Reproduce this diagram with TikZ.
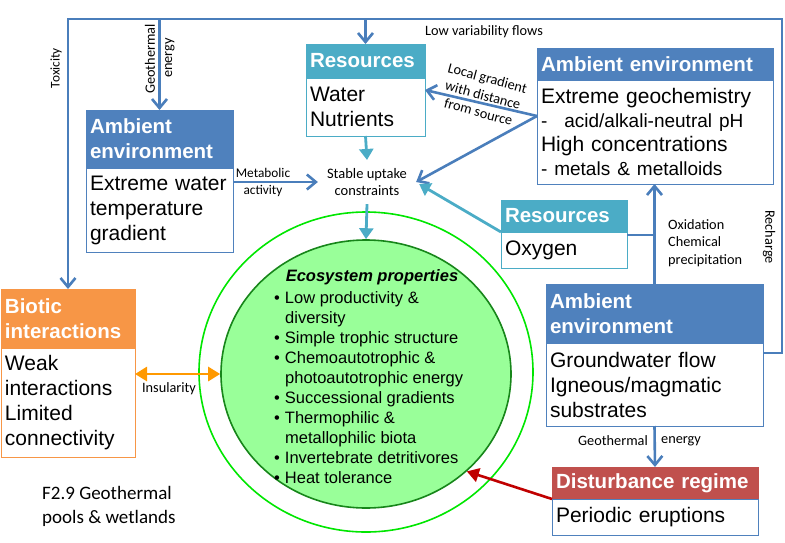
\documentclass[tikz,border=0pt]{standalone}
\usepackage{fontspec}
\setmainfont{Liberation Sans}
\newfontfamily\calib{Carlito}
\usetikzlibrary{arrows.meta,shapes.geometric}
\definecolor{hblue}{HTML}{4F81BD}
\definecolor{hteal}{HTML}{4BACC6}
\definecolor{horange}{HTML}{F79646}
\definecolor{hred}{HTML}{C0504D}
\definecolor{lblue}{HTML}{4A7EBB}
\definecolor{lorange}{HTML}{FF9900}
\definecolor{lred}{HTML}{C00000}
\definecolor{ring}{HTML}{00E600}
\definecolor{ecofill}{HTML}{99FF99}
\definecolor{ecoline}{HTML}{17861A}
\begin{document}
\begin{tikzpicture}[x=1pt,y=-1pt,
  hdr/.style={anchor=north west, outer sep=0pt, inner xsep=4pt, inner ysep=0pt, align=left,
    text=white, font=\fontsize{20.5}{25}\selectfont\bfseries, draw=#1, fill=#1, line width=0.8pt},
  body/.style={anchor=north west, outer sep=0pt, inner xsep=4pt, inner ysep=0pt, align=left,
    font=\fontsize{21}{25}\selectfont, draw=#1, fill=white, line width=0.9pt},
  lab/.style={font=\calib\fontsize{14.3}{17.5}\selectfont, inner sep=0pt, align=center},
  slab/.style={font=\calib\fontsize{13.3}{17}\selectfont, inner sep=0pt, align=center},
  bl/.style={draw=lblue, line width=2.6pt, line join=miter},
  blarrow/.style={bl, -{Straight Barb[length=9pt,width=15pt]}},
  tlarrow/.style={draw=hteal, line width=2.8pt, -{Triangle[length=11pt,width=14pt]}},
  eco/.style={font=\fontsize{16.5}{20}\selectfont, inner sep=0pt, anchor=base west}
]
\useasboundingbox (0,0) rectangle (785,542);

% ecosystem ellipses
\node[ellipse, draw=ring, line width=1.6pt, minimum width=334pt, minimum height=320pt] (ring) at (366,372) {};
\node[ellipse, draw=ecoline, fill=ecofill, line width=1.6pt, minimum width=290pt, minimum height=268pt] (elli) at (366,374) {};

% boxes
\node[hdr=hblue, text width=139pt, minimum width=147pt, minimum height=58pt] (a1h) at (86,110) {Ambient\\environment};
\node[body=hblue, text width=139pt, minimum width=147pt, minimum height=84pt] (a1b) at (86,168) {Extreme water\\temperature\\gradient};

\node[hdr=hblue, text width=228pt, minimum width=236pt, minimum height=32pt] (a2h) at (537,48) {Ambient environment};
\node[body=hblue, text width=228pt, minimum width=236pt, minimum height=104pt, font=\fontsize{21}{24}\selectfont] (a2b) at (537,80)
  {Extreme geochemistry\\{\fontsize{19}{24}\selectfont -\hspace{17pt}acid/alkali-neutral pH}\\High concentrations\\{\fontsize{19}{24}\selectfont - metals \& metalloids}};

\node[hdr=hteal, text width=111pt, minimum width=119pt, minimum height=34pt] (resh) at (306,44) {Resources};
\node[body=hteal, text width=111pt, minimum width=119pt, minimum height=58pt] (resb) at (306,78) {Water\\Nutrients};

\node[hdr=hteal, text width=118pt, minimum width=126pt, minimum height=32pt] (oxh) at (501,200) {Resources};
\node[body=hteal, text width=118pt, minimum width=126pt, minimum height=36pt] (oxb) at (501,232) {Oxygen};

\node[hdr=hblue, text width=209pt, minimum width=217pt, minimum height=59pt] (a3h) at (546,284) {Ambient\\environment};
\node[body=hblue, text width=209pt, minimum width=217pt, minimum height=83pt] (a3b) at (546,343) {Groundwater flow\\Igneous/magmatic\\substrates};

\node[hdr=hred, text width=198pt, minimum width=206pt, minimum height=32pt] (dh) at (552,467) {Disturbance regime};
\node[body=hblue, text width=198pt, minimum width=206pt, minimum height=36pt] (db) at (552,499) {Periodic eruptions};

\node[hdr=horange, text width=126pt, minimum width=134pt, minimum height=59pt] (bioh) at (1,289) {Biotic\\interactions};
\node[body=horange, text width=126pt, minimum width=134pt, minimum height=109pt] (biob) at (1,348) {Weak\\interactions\\Limited\\connectivity};

% stable uptake
\node[font=\calib\fontsize{14.5}{17.5}\selectfont, align=center, inner xsep=9pt, inner ysep=8pt] (stab) at (367,182) {Stable uptake\\constraints};

% ecosystem text
\node[font=\fontsize{16.5}{20}\selectfont\bfseries\itshape, inner sep=0pt, anchor=base] (etitle) at (372,281) {Ecosystem properties};
\node[eco] (e1) at (274,303) {\textbullet\hspace{5pt}Low productivity \&};
\node[eco] (e2) at (285,323) {diversity};
\node[eco] (e3) at (274,343) {\textbullet\hspace{5pt}Simple trophic structure};
\node[eco] (e4) at (274,363) {\textbullet\hspace{5pt}Chemoautotrophic \&};
\node[eco] (e5) at (285,383) {photoautotrophic energy};
\node[eco] (e6) at (274,403) {\textbullet\hspace{5pt}Successional gradients};
\node[eco] (e7) at (274,423) {\textbullet\hspace{5pt}Thermophilic \&};
\node[eco] (e8) at (285,443) {metallophilic biota};
\node[eco] (e9) at (274,463) {\textbullet\hspace{5pt}Invertebrate detritivores};
\node[eco] (e10) at (274,483) {\textbullet\hspace{5pt}Heat tolerance};

% frame
\coordinate (tl) at (68,19);
\coordinate (tr) at (782,19);
\coordinate (br) at (782,353);
\draw[blarrow] ([yshift=-10pt]a3h.south east) -- (br) -- (tr) -- (tl) -- (tl |- bioh.north);
\draw[blarrow] (a1h.north |- tl) -- (a1h.north);
\draw[blarrow] (resh.north |- tl) -- (resh.north);

\node[slab, rotate=90] (ltox) at (56,68) {Toxicity};
\node[lab, rotate=90] (lgeo1) at (150,59) {Geothermal};
\node[lab, rotate=90] (lgeo2) at (170,58) {energy};
\node[lab, rotate=-90] (lrech) at (769,237) {Recharge};
\node[lab] (llow) at (484,32) {Low variability flows};

% arrows from geochemistry box
\coordinate (src) at ([yshift=16pt]a2b.west);
\draw[blarrow] (src) -- ([yshift=17pt]resb.east);
\draw[blarrow] (src) -- (stab.east);
\node[font=\calib\fontsize{14.3}{17.5}\selectfont, inner sep=0pt, align=center, rotate=-15] (lgrad) at (483,95) {Local gradient\\with distance\\from source};

% metabolic
\draw[blarrow] (a1b.east |- stab) -- (stab.west);
\node[slab] (lmet) at (263,182) {Metabolic\\activity};

% teal
\draw[tlarrow] (resb.south) -- (stab.north);
\draw[tlarrow] (stab.south) -- (elli.north);
\draw[tlarrow] (oxh.south west) -- ([xshift=3pt,yshift=-2pt]stab.east);

% oxygen to vertical
\coordinate (oxr) at ([yshift=-3pt]oxb.north east);
\draw[bl] (oxr) -- (oxr -| a3h.north);
\draw[blarrow] (a3h.north) -- (a3h.north |- a2b.south);
\node[font=\calib\fontsize{14.3}{17.5}\selectfont, inner sep=0pt, align=left, anchor=north west] (lox) at (668,219) {Oxidation\\Chemical\\precipitation};

% geothermal bottom
\draw[blarrow] (a3b.south) -- (dh.north);
\node[lab] (lgb1) at (613,441) {Geothermal};
\node[lab] (lgb2) at (681,441) {energy};

% red
\draw[draw=lred, line width=2.6pt, -{Triangle[length=12pt,width=14pt]}] (db.north west) -- (elli.-44);

% orange
\draw[draw=lorange, line width=2.8pt, {Triangle[length=12pt,width=14pt]}-{Triangle[length=12pt,width=14pt]}] (biob.east |- elli.west) -- (elli.west);
\node[lab] (lins) at (169,389) {Insularity};

% caption
\node[font=\calib\fontsize{19}{24}\selectfont, inner sep=0pt, anchor=base west] (cap1) at (42,499) {F2.9 Geothermal};
\node[font=\calib\fontsize{19}{24}\selectfont, inner sep=0pt, anchor=base west] (cap2) at (42,523) {pools \& wetlands};
\end{tikzpicture}
\end{document}
